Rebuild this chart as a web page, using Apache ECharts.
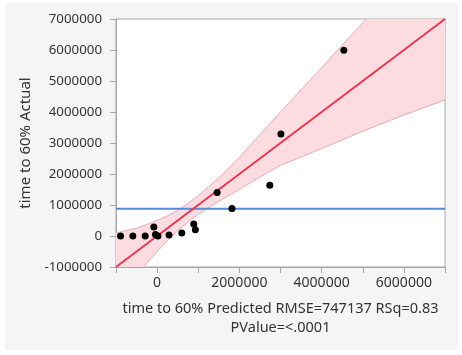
<!DOCTYPE html>
<html>
<head>
<meta charset="utf-8">
<script src="https://cdn.jsdelivr.net/npm/echarts@6/dist/echarts.min.js"></script>
<style>
html,body{margin:0;padding:0;background:#fff;}
#chart{width:462px;height:355px;}
</style>
</head>
<body>
<div id="chart"></div>
<script>
// Data
const predicted = [-890000, -590000, -290000, -80000, -40000, 20000, 290000, 600000, 890000, 930000, 1460000, 1820000, 2740000, 3010000, 4540000];
const actual    = [0, 0, 0, 290000, 50000, 0, 30000, 100000, 390000, 200000, 1400000, 890000, 1640000, 3290000, 5990000];
const meanActual = 880000;
const fitX = [-1000000, 7000000];
const fitY = [-1000000, 7000000];
const bandX     = [-1000000, -500000, 0, 250000, 500000, 750000, 1000000, 1250000, 1500000, 2000000, 2500000, 3000000, 4000000, 5000000, 6000000, 7000000];
const bandUpper = [100000, 250000, 500000, 650000, 830000, 1050000, 1300000, 1580000, 1880000, 2540000, 3270000, 4000000, 5430000, 6880000, 8330000, 9780000];
const bandLower = [-2100000, -1250000, -500000, -150000, 170000, 450000, 700000, 920000, 1120000, 1500000, 1900000, 2280000, 2820000, 3380000, 3900000, 4390000];
const xTicks = [-1000000, 7000000, 1000000];
const yTicks = [-1000000, 7000000, 1000000];
const xTitle = 'time to 60% Predicted RMSE=747137 RSq=0.83\nPValue=<.0001';
const yTitle = 'time to 60% Actual';

const chart = echarts.init(document.getElementById('chart'), null, {renderer: 'canvas'});
const font = '"Noto Sans", "Open Sans", sans-serif';
const txt = '#333';

chart.setOption({
  animation: false,
  backgroundColor: '#ffffff',
  graphic: [{
    type: 'rect', z: -100,
    shape: {x: 5, y: 3, width: 453, height: 347},
    style: {fill: '#f5f5f5'}
  }],
  grid: {
    left: 116, top: 19, right: 17, bottom: 88,
    show: true, backgroundColor: '#ffffff', borderColor: '#a6a6a6', borderWidth: 1
  },
  xAxis: {
    type: 'value', min: xTicks[0], max: xTicks[1], interval: xTicks[2],
    splitLine: {show: false},
    axisLine: {show: true, onZero: false, lineStyle: {color: '#a6a6a6'}},
    axisTick: {show: true, length: 6, lineStyle: {color: '#a6a6a6'}},
    axisLabel: {
      color: txt, fontFamily: font, fontSize: 14, margin: 9,
      formatter: v => (v >= 0 && v % 2000000 === 0) ? String(v) : ''
    },
    name: xTitle, nameLocation: 'middle', nameGap: 32,
    nameTextStyle: {color: txt, fontFamily: font, fontSize: 14.5, lineHeight: 19, align: 'center'}
  },
  yAxis: {
    type: 'value', min: yTicks[0], max: yTicks[1], interval: yTicks[2],
    splitLine: {show: false},
    axisLine: {show: true, onZero: false, lineStyle: {color: '#a6a6a6'}},
    axisTick: {show: true, length: 6, lineStyle: {color: '#a6a6a6'}},
    axisLabel: {color: txt, fontFamily: font, fontSize: 13.3, margin: 14, formatter: v => String(v)},
    name: yTitle, nameLocation: 'middle', nameGap: 81,
    nameTextStyle: {color: txt, fontFamily: font, fontSize: 15}
  },
  series: [
    {
      type: 'custom', clip: true, z: 1,
      data: [[bandX[0], bandUpper[0]]],
      renderItem: function (params, api) {
        if (params.dataIndex !== 0) return;
        const up = bandX.map((x, i) => api.coord([x, bandUpper[i]]));
        const lo = bandX.map((x, i) => api.coord([x, bandLower[i]]));
        return {
          type: 'group',
          children: [
            {type: 'polygon', shape: {points: up.concat(lo.slice().reverse())}, style: {fill: '#fcdce1'}},
            {type: 'polyline', shape: {points: up}, style: {stroke: '#eba9b3', lineWidth: 1, fill: null}},
            {type: 'polyline', shape: {points: lo}, style: {stroke: '#eba9b3', lineWidth: 1, fill: null}}
          ]
        };
      }
    },
    {
      type: 'line', z: 2, symbol: 'none', silent: true,
      data: fitX.map(x => [x, meanActual]),
      lineStyle: {color: '#5b88d8', width: 2}
    },
    {
      type: 'line', z: 3, symbol: 'none', silent: true, clip: true,
      data: fitX.map((x, i) => [x, fitY[i]]),
      lineStyle: {color: '#e6394f', width: 2}
    },
    {
      type: 'scatter', z: 4, symbolSize: 7,
      itemStyle: {color: '#000000', opacity: 1},
      data: predicted.map((x, i) => [x, actual[i]])
    }
  ]
});
</script>
</body>
</html>
